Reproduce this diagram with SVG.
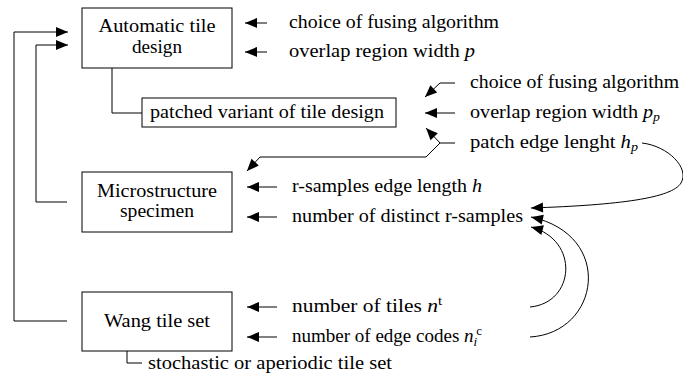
<svg xmlns="http://www.w3.org/2000/svg" width="683" height="383" viewBox="0 0 683 383">
<style>
text{font-family:"Liberation Serif","Times New Roman",serif;font-size:19px;fill:#000}
.box{fill:#fff;stroke:#000;stroke-width:1}
.ln{fill:none;stroke:#000;stroke-width:1}
.ar{fill:none;stroke:#000;stroke-width:1;marker-end:url(#ah)}
.it{font-style:italic}
.sm{font-size:13px}
</style>
<defs>
<marker id="ah" markerUnits="userSpaceOnUse" markerWidth="14" markerHeight="12" viewBox="-13 -6 14 12" refX="0" refY="0" orient="auto" overflow="visible">
<path d="M0,0 C-4,-1.5 -8,-3.5 -12,-5 L-12,5 C-8,3.5 -4,1.5 0,0 Z" fill="#000"/>
</marker>
</defs>
<g id="connectors">
<path class="ar" d="M67,321 H14 V32 H68"/>
<path class="ar" d="M67,202 H36 V45 H68"/>
<path class="ln" d="M112,68 V113 H142"/>
<path class="ln" d="M127,351 V363 H142"/>
<path class="ar" d="M267,23 H245"/>
<path class="ar" d="M267,52 H245"/>
<path class="ar" d="M455,83 H440 L425,97"/>
<path class="ar" d="M455,113 H425"/>
<path class="ar" d="M455,143 H440 L426,128"/>
<path class="ar" d="M440,143 L426,157 H260 L247,171"/>
<path class="ar" d="M277,187 H247"/>
<path class="ar" d="M277,217 H247"/>
<path class="ar" d="M277,307 H247"/>
<path class="ar" d="M277,337 H247"/>
<path class="ar" d="M642,143 C668,146 690,168 681,183 C672,198 620,205 531,208"/>
<path class="ar" d="M530,337 C600,333 615,235 531,217"/>
<path class="ar" d="M530,307 C575,303 580,240 531,227"/>
</g>
<g id="automatic-tile-design">
<rect class="box" x="82" y="8" width="150" height="60"/>
<text x="157" y="31.5" text-anchor="middle" textLength="117" lengthAdjust="spacingAndGlyphs">Automatic tile</text>
<text x="157" y="53" text-anchor="middle" textLength="50" lengthAdjust="spacingAndGlyphs">design</text>
</g>
<g id="patched-variant">
<rect class="box" x="142" y="98" width="254" height="29"/>
<text x="150" y="118" textLength="234" lengthAdjust="spacingAndGlyphs">patched variant of tile design</text>
</g>
<g id="microstructure-specimen">
<rect class="box" x="82" y="172" width="150" height="60"/>
<text x="157" y="196.5" text-anchor="middle" textLength="120" lengthAdjust="spacingAndGlyphs">Microstructure</text>
<text x="157" y="217" text-anchor="middle" textLength="74" lengthAdjust="spacingAndGlyphs">specimen</text>
</g>
<g id="wang-tile-set">
<rect class="box" x="82" y="292" width="150" height="59"/>
<text x="157" y="327" text-anchor="middle" textLength="106" lengthAdjust="spacingAndGlyphs">Wang tile set</text>
</g>
<g id="labels">
<text x="289" y="27.5" textLength="210" lengthAdjust="spacingAndGlyphs">choice of fusing algorithm</text>
<text x="289" y="56.5" textLength="186" lengthAdjust="spacingAndGlyphs">overlap region width <tspan class="it">p</tspan></text>
<text x="470" y="88" textLength="209" lengthAdjust="spacingAndGlyphs">choice of fusing algorithm</text>
<text x="470" y="117.5" textLength="190" lengthAdjust="spacingAndGlyphs">overlap region width <tspan class="it">p</tspan><tspan class="it sm" dy="3">p</tspan></text>
<text x="470" y="147.5" textLength="168" lengthAdjust="spacingAndGlyphs">patch edge lenght <tspan class="it">h</tspan><tspan class="it sm" dy="3">p</tspan></text>
<text x="292" y="191.5" textLength="190" lengthAdjust="spacingAndGlyphs">r-samples edge length <tspan class="it">h</tspan></text>
<text x="292" y="221.5" textLength="231" lengthAdjust="spacingAndGlyphs">number of distinct r-samples</text>
<text x="292" y="311.5" textLength="150" lengthAdjust="spacingAndGlyphs">number of tiles <tspan class="it">n</tspan><tspan class="sm" dy="-7">t</tspan></text>
<text x="292" y="341.5" textLength="190" lengthAdjust="spacingAndGlyphs">number of edge codes <tspan class="it">n</tspan><tspan class="it sm" dy="4">i</tspan><tspan class="sm" dx="-1" dy="-11">c</tspan></text>
<text x="148" y="369" textLength="244" lengthAdjust="spacingAndGlyphs">stochastic or aperiodic tile set</text>
</g>
</svg>
